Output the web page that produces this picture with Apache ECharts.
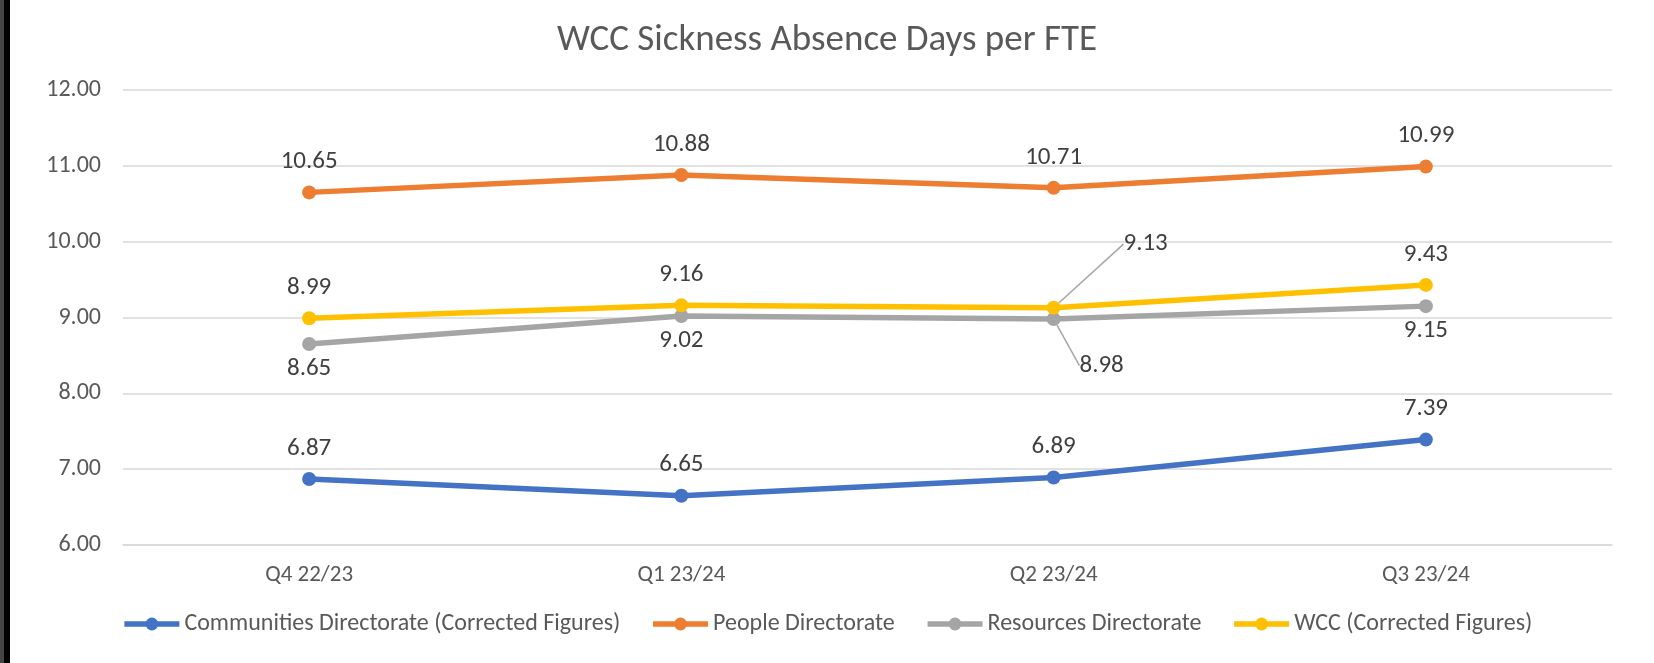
<!DOCTYPE html>
<html>
<head>
<meta charset="utf-8">
<script src="https://cdn.jsdelivr.net/npm/echarts@6/dist/echarts.min.js"></script>
<style>
  html, body { margin: 0; padding: 0; background: #fff; }
  #chart { width: 1654px; height: 663px; }
</style>
</head>
<body>
<div id="chart"></div>
<script>
const categories = ['Q4 22/23', 'Q1 23/24', 'Q2 23/24', 'Q3 23/24'];
const communities = [6.87, 6.65, 6.89, 7.39];
const people = [10.65, 10.88, 10.71, 10.99];
const resources = [8.65, 9.02, 8.98, 9.15];
const wcc = [8.99, 9.16, 9.13, 9.43];
const yTicks = [6, 7, 8, 9, 10, 11, 12];

const FONT = 'Carlito, Lato, sans-serif';
const labelStyle = { fontFamily: FONT, fontSize: 25, color: '#404040' };

// labels that Excel pulled off their points, with leader lines
const moved = {
  resources: { 2: { dx: 48, dy: 22 } },
  wcc: { 2: { dx: 92, dy: -33 } }
};

function makeSeries(name, key, values, color, below) {
  return {
    name: name,
    type: 'line',
    data: values.map((v, i) => moved[key] && moved[key][i]
      ? { value: v, labelLine: { show: true, lineStyle: { color: '#A6A6A6', width: 1.5 } } }
      : v),
    symbol: 'circle',
    symbolSize: 14,
    lineStyle: { color: color, width: 5.5 },
    itemStyle: { color: color },
    label: Object.assign({
      show: true,
      position: below ? 'bottom' : 'top',
      distance: below ? 5 : 11,
      formatter: p => p.value.toFixed(2)
    }, labelStyle),
    labelLayout: p => (moved[key] && moved[key][p.dataIndex]) || {},
    animation: false
  };
}

const chart = echarts.init(document.getElementById('chart'));
chart.setOption({
  backgroundColor: '#fff',
  title: {
    text: 'WCC Sickness Absence Days per FTE',
    left: 'center',
    top: 17,
    textStyle: { fontFamily: FONT, fontSize: 37, fontWeight: 'normal', color: '#595959' }
  },
  graphic: [
    { type: 'rect', left: 0, top: 0, shape: { width: 4, height: 663 }, style: { fill: '#444' } },
    { type: 'rect', left: 4, top: 0, shape: { width: 6, height: 663 }, style: { fill: '#000' } }
  ],
  grid: { left: 123, right: 42, top: 90, bottom: 118 },
  legend: {
    bottom: 22,
    left: 'center',
    itemWidth: 55,
    itemHeight: 16,
    itemGap: 30,
    lineStyle: { width: 5.5 },
    textStyle: { fontFamily: FONT, fontSize: 24, color: '#595959' }
  },
  xAxis: {
    type: 'category',
    data: categories,
    boundaryGap: true,
    axisLine: { show: true, lineStyle: { color: '#D9D9D9', width: 1.5 } },
    axisTick: { show: false },
    axisLabel: { fontFamily: FONT, fontSize: 23, color: '#595959', margin: 19 }
  },
  yAxis: {
    type: 'value',
    min: yTicks[0],
    max: yTicks[yTicks.length - 1],
    interval: 1,
    axisLine: { show: false },
    axisTick: { show: false },
    splitLine: { lineStyle: { color: '#D9D9D9', width: 1.5 } },
    axisLabel: { fontFamily: FONT, fontSize: 24, color: '#595959', margin: 22, formatter: v => v.toFixed(2) }
  },
  series: [
    makeSeries('Communities Directorate (Corrected Figures)', 'communities', communities, '#4472C4', false),
    makeSeries('People Directorate', 'people', people, '#ED7D31', false),
    makeSeries('Resources Directorate', 'resources', resources, '#A5A5A5', true),
    makeSeries('WCC (Corrected Figures)', 'wcc', wcc, '#FFC000', false)
  ]
});
</script>
</body>
</html>
